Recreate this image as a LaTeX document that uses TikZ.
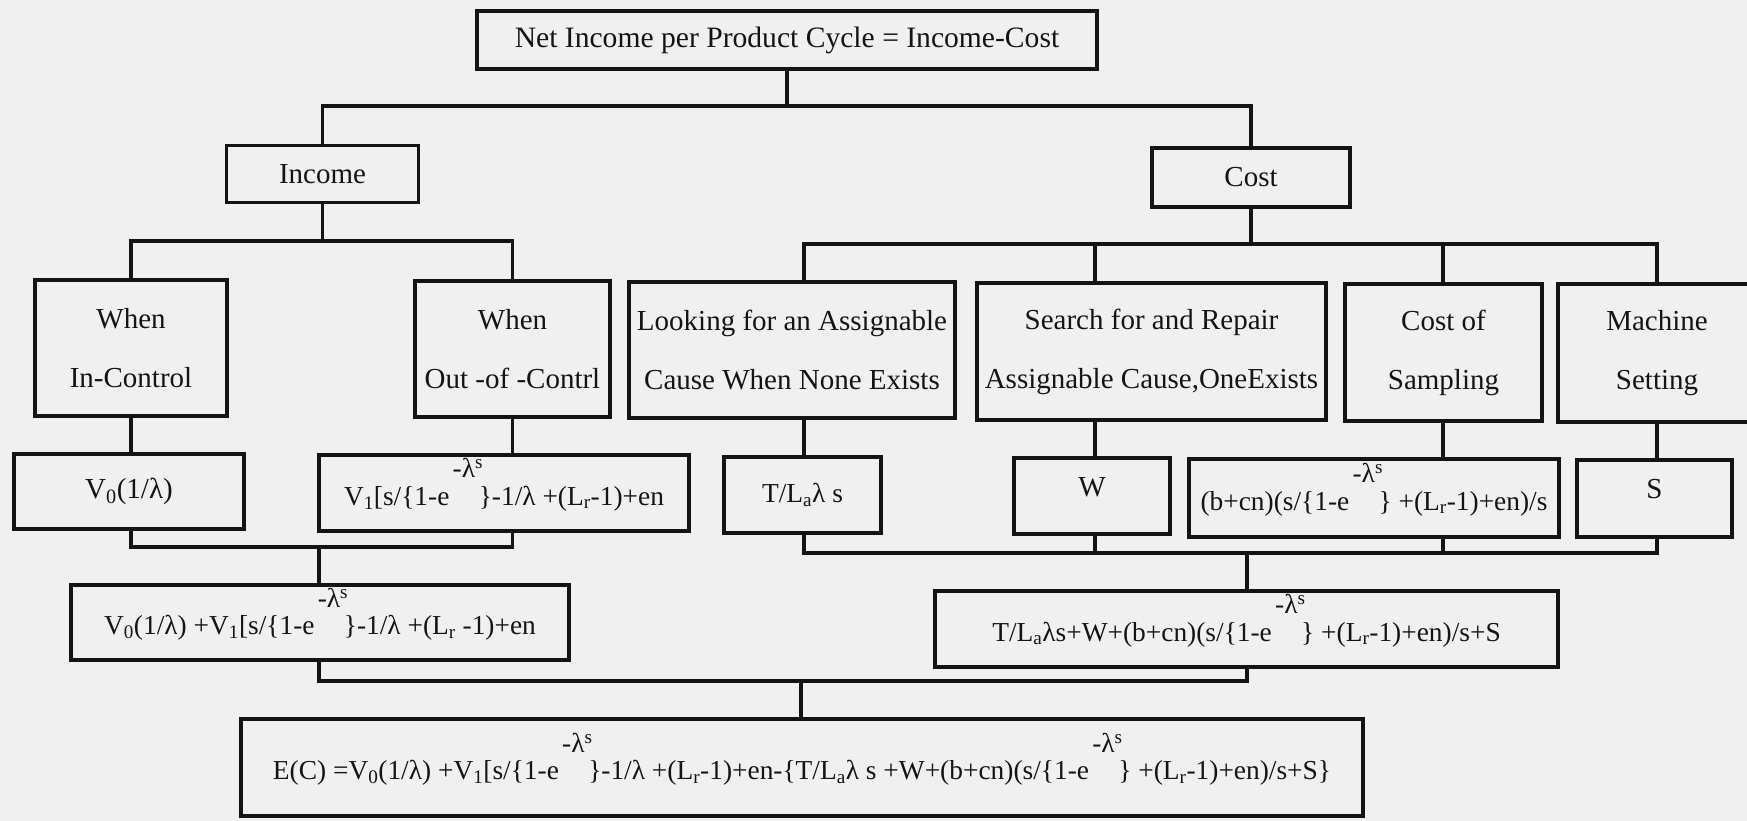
\documentclass[tikz,border=0pt]{standalone}
\usepackage{fontspec}
\setmainfont{Liberation Serif}
\definecolor{paper}{RGB}{240,240,240}
\definecolor{ink}{RGB}{20,20,20}
\newcommand{\lx}{\hspace{0.12em}\rlap{\raisebox{1.0em}[1.1em][0pt]{-λ\textsuperscript{s}}}\hspace{0.95em}}
\newcommand{\sbb}[1]{\textsubscript{#1}}
\tikzset{
  box/.style={draw=ink, line width=3.2pt, fill=paper, inner sep=0pt, align=center,
    text=ink, font=\fontsize{29}{59}\selectfont},
  fbox/.style={box, font=\fontsize{27.4}{40}\selectfont},
  conn/.style={draw=ink, line width=3.2pt, line join=miter}
}
\begin{document}
\begin{tikzpicture}[x=1pt,y=-1pt]
\useasboundingbox (0,0) rectangle (1747,821);
\clip (0,0) rectangle (1747,821);
\fill[paper] (0,0) rectangle (1747,821);

% level 0
\node[box, font=\fontsize{29.6}{40}\selectfont, minimum width=620pt, minimum height=58pt] (top) at (787,40) {Net Income per Product Cycle = Income-Cost};
% level 1
\node[box, minimum width=192pt, minimum height=57pt] (income) at (322.5,174) {Income};
\node[box, minimum width=198pt, minimum height=59pt] (cost) at (1251,177.5) {Cost};
% level 2
\node[box, minimum width=192pt, minimum height=136pt] (inctrl) at (131,348) {When\\In-Control};
\node[box, minimum width=195pt, minimum height=136pt] (outctrl) at (512.5,349) {When\\Out -of -Contrl};
\node[box, minimum width=326pt, minimum height=136pt] (looking) at (792,350) {Looking for an Assignable\\Cause When None Exists};
\node[box, minimum width=349pt, minimum height=137pt] (search) at (1151.5,351.5) {Search for and Repair\\Assignable Cause,OneExists};
\node[box, minimum width=197pt, minimum height=137pt] (sampling) at (1443.5,352.5) {Cost of\\Sampling};
\node[box, minimum width=198pt, minimum height=138pt] (machine) at (1657,353) {Machine\\Setting};
% level 3
\node[box, minimum width=230pt, minimum height=75pt] (vzero) at (129,491.5) {V\sbb{0}(1/λ)};
\node[fbox, minimum width=370pt, minimum height=76pt] (vone) at (504,493) {V\sbb{1}[s/\{1-e\lx\}-1/λ +(L\sbb{r}-1)+en};
\node[fbox, minimum width=157pt, minimum height=76pt] (tl) at (802.5,495) {T/L\sbb{a}λ s};
\node[box, minimum width=156pt, minimum height=76pt] (wbox) at (1092,496) {\smash{W}};
\node[fbox, minimum width=370pt, minimum height=78pt] (sform) at (1374,498) {(b+cn)(s/\{1-e\lx\} +(L\sbb{r}-1)+en)/s};
\node[box, minimum width=155pt, minimum height=77pt] (sbox) at (1654.5,498.5) {\smash{S}};
% level 4
\node[fbox, minimum width=498pt, minimum height=75pt] (vv) at (320,622.5) {V\sbb{0}(1/λ) +V\sbb{1}[s/\{1-e\lx\}-1/λ +(L\sbb{r} -1)+en};
\node[fbox, minimum width=623pt, minimum height=76pt] (rbox) at (1246.5,629) {T/L\sbb{a}λs+W+(b+cn)(s/\{1-e\lx\} +(L\sbb{r}-1)+en)/s+S};
% level 5
\node[fbox, minimum width=1122pt, minimum height=97pt] (ec) at (802,767.5) {E(C) =V\sbb{0}(1/λ) +V\sbb{1}[s/\{1-e\lx\}-1/λ +(L\sbb{r}-1)+en-\{T/L\sbb{a}λ s +W+(b+cn)(s/\{1-e\lx\} +(L\sbb{r}-1)+en)/s+S\}};

% bus coordinates
\coordinate (b1) at (787,106);
\coordinate (b2) at (323,241);
\coordinate (b2r) at (1251,244);
\coordinate (jL) at (804,244);
\coordinate (jS) at (1095,244);
\coordinate (jC) at (1443,244);
\coordinate (jM) at (1657,244);
\coordinate (b3) at (319,547);
\coordinate (b3r) at (1247,553);
\coordinate (b4) at (801,681);

% connectors
\draw[conn] (top.south) -- (b1);
\draw[conn] (income.north) |- (b1) -| (cost.north);
\draw[conn] (income.south) -- (income.south |- b2);
\draw[conn] (inctrl.north) |- (b2) -| (outctrl.north);
\draw[conn] (cost.south) -- (b2r);
\draw[conn] (jL |- looking.north) -- (jL) -- (jM) -- (jM |- machine.north);
\draw[conn] (jS) -- (jS |- search.north);
\draw[conn] (jC) -- (jC |- sampling.north);

\draw[conn] (inctrl.south) -- (inctrl.south |- vzero.north);
\draw[conn] (outctrl.south) -- (outctrl.south |- vone.north);
\draw[conn] (jL |- looking.south) -- (jL |- tl.north);
\draw[conn] (jS |- search.south) -- (jS |- wbox.north);
\draw[conn] (jC |- sampling.south) -- (jC |- sform.north);
\draw[conn] (jM |- machine.south) -- (jM |- sbox.north);

\draw[conn] (inctrl.south |- vzero.south) |- (b3) -| (outctrl.south |- vone.south);
\draw[conn] (b3) -- (b3 |- vv.north);
\draw[conn] (jL |- tl.south) |- (b3r) -| (jM |- sbox.south);
\draw[conn] (jS |- wbox.south) -- (jS |- b3r);
\draw[conn] (jC |- sform.south) -- (jC |- b3r);
\draw[conn] (b3r) -- (b3r |- rbox.north);

\draw[conn] (b3 |- vv.south) |- (b4) -| (b3r |- rbox.south);
\draw[conn] (b4) -- (b4 |- ec.north);
\end{tikzpicture}
\end{document}
